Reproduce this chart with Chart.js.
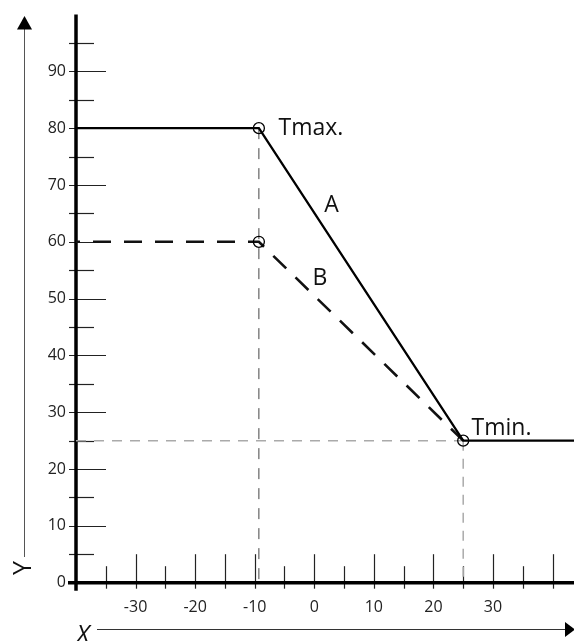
<!DOCTYPE html>
<html>
<head>
<meta charset="utf-8">
<script src="https://cdn.jsdelivr.net/npm/chart.js@4.4.1/dist/chart.umd.min.js"></script>
<style>
  html, body { margin: 0; padding: 0; background: #fff; }
  #wrap { width: 574px; height: 641px; }
</style>
</head>
<body>
<div id="wrap"><canvas id="grafico" width="574" height="641"></canvas></div>
<script>
// Dados
const xA = [-40, -9.3, 25, 43.6];     // curva A (linha cheia)
const yA = [80, 80, 25, 25];
const xB = [-40, -9.3, 25];           // curva B (tracejada)
const yB = [60, 60, 25];
const xMarcas = [-9.3, -9.3, 25];     // círculos abertos
const yMarcas = [80, 60, 25];
const rotulosX = [-30, -20, -10, 0, 10, 20, 30];
const rotulosY = [0, 10, 20, 30, 40, 50, 60, 70, 80, 90];
const textos = ['Tmax.', 'A', 'B', 'Tmin.'];

// posição dos textos (em unidades do gráfico)
const posTextos = [
  { x: -6.0, y: 78.8, align: 'left' },
  { x: 2.9, y: 65.2, align: 'center' },
  { x: 0.95, y: 52.4, align: 'center' },
  { x: 26.4, y: 26.0, align: 'left' }
];

const pares = (xs, ys) => xs.map((x, i) => ({ x: x, y: ys[i] }));

const desenhos = {
  id: 'desenhos',
  beforeDatasetsDraw(chart) {
    const ctx = chart.ctx;
    const sx = chart.scales.x, sy = chart.scales.y;
    const x0 = sx.getPixelForValue(-40);
    const y0 = sy.getPixelForValue(0);
    ctx.save();
    ctx.strokeStyle = '#222';
    ctx.lineWidth = 1.2;
    // marcas do eixo Y
    sy.ticks.forEach(t => {
      if (t.value <= 0 || t.value >= 100 || t.value % 5 !== 0) return;
      const py = Math.round(sy.getPixelForValue(t.value)) + 0.5;
      const len = t.value % 10 === 0 ? 30 : 18;
      ctx.beginPath(); ctx.moveTo(x0 - 7, py); ctx.lineTo(x0 + len, py); ctx.stroke();
    });
    // marcas do eixo X
    sx.ticks.forEach(t => {
      if (t.value <= -40 || t.value % 5 !== 0) return;
      const px = Math.round(sx.getPixelForValue(t.value)) + 0.5;
      const longa = t.value % 10 === 0 || t.value === -15;
      ctx.beginPath(); ctx.moveTo(px, y0 + 6); ctx.lineTo(px, y0 - (longa ? 28.5 : 16.5)); ctx.stroke();
    });
    // eixos grossos
    ctx.strokeStyle = '#000';
    ctx.lineWidth = 3.5;
    ctx.beginPath(); ctx.moveTo(x0, sy.getPixelForValue(100)); ctx.lineTo(x0, y0 + 8); ctx.stroke();
    ctx.beginPath(); ctx.moveTo(x0 - 8, y0); ctx.lineTo(chart.width, y0); ctx.stroke();
    ctx.restore();
  },
  afterDraw(chart) {
    const ctx = chart.ctx;
    const sx = chart.scales.x, sy = chart.scales.y;
    ctx.save();
    // textos
    ctx.fillStyle = '#111';
    ctx.font = '23px "Open Sans"';
    ctx.textBaseline = 'alphabetic';
    textos.forEach((t, i) => {
      const p = posTextos[i];
      ctx.textAlign = p.align;
      ctx.fillText(t, sx.getPixelForValue(p.x), sy.getPixelForValue(p.y));
    });
    // seta do Y
    ctx.strokeStyle = '#555';
    ctx.lineWidth = 1;
    ctx.beginPath(); ctx.moveTo(24.5, 29); ctx.lineTo(24.5, 557); ctx.stroke();
    ctx.fillStyle = '#000';
    ctx.beginPath(); ctx.moveTo(17, 29.5); ctx.lineTo(32, 29.5); ctx.lineTo(24.5, 16); ctx.closePath(); ctx.fill();
    // seta do X
    ctx.strokeStyle = '#333';
    ctx.beginPath(); ctx.moveTo(97, 629.5); ctx.lineTo(567, 629.5); ctx.stroke();
    ctx.beginPath(); ctx.moveTo(565, 622); ctx.lineTo(565, 637); ctx.lineTo(575, 629.5); ctx.closePath(); ctx.fill();
    // letras X e Y
    ctx.fillStyle = '#111';
    ctx.font = 'italic 25px "Open Sans"';
    ctx.textAlign = 'center';
    ctx.fillText('X', 83, 643);
    ctx.save();
    ctx.translate(31, 568);
    ctx.rotate(-Math.PI / 2);
    ctx.font = '25px "Open Sans"';
    ctx.fillText('Y', 0, 0);
    ctx.restore();
    ctx.restore();
  }
};

new Chart(document.getElementById('grafico'), {
  type: 'scatter',
  data: {
    datasets: [
      {
        data: pares(xA, yA), showLine: true, borderColor: '#000', borderWidth: 2.3,
        pointRadius: 0, order: 2
      },
      {
        data: pares(xB, yB), showLine: true, borderColor: '#111', borderWidth: 2.6,
        borderDash: [18, 13], borderDashOffset: 14, pointRadius: 0, order: 2
      },
      { // guia vertical Tmax
        data: pares([xMarcas[0], xMarcas[0]], [yMarcas[0], 0]), showLine: true,
        borderColor: '#444', borderWidth: 1, borderDash: [11, 9], pointRadius: 0, order: 5
      },
      { // guia vertical Tmin
        data: pares([xMarcas[2], xMarcas[2]], [yMarcas[2], 0]), showLine: true,
        borderColor: '#aaa', borderWidth: 1.5, borderDash: [10, 8], pointRadius: 0, order: 5
      },
      { // guia horizontal Tmin
        data: pares([-40, xMarcas[2]], [yMarcas[2], yMarcas[2]]), showLine: true,
        borderColor: '#aaa', borderWidth: 1.5, borderDash: [10, 8], pointRadius: 0, order: 5
      },
      {
        data: pares(xMarcas, yMarcas), showLine: false, pointRadius: 5.5,
        pointBorderColor: '#000', pointBackgroundColor: 'rgba(0,0,0,0)', pointBorderWidth: 1.3, order: 1
      }
    ]
  },
  options: {
    responsive: false,
    animation: false,
    devicePixelRatio: 1,
    layout: { autoPadding: false, padding: { top: 14.5, left: 0, right: 0, bottom: 0 } },
    plugins: { legend: { display: false }, tooltip: { enabled: false } },
    scales: {
      x: {
        type: 'linear', min: -40, max: 43.6,
        grid: { display: false, drawTicks: false },
        border: { display: false },
        ticks: {
          stepSize: 5, autoSkip: false, includeBounds: false, maxRotation: 0, padding: 15, color: '#222',
          font: { family: 'Open Sans', size: 16 },
          callback: v => rotulosX.includes(v) ? String(v) : ''
        },
        afterFit: s => { s.height = 58.3; s.paddingLeft = 0; s.paddingRight = 0; }
      },
      y: {
        min: 0, max: 100,
        grid: { display: false, drawTicks: false },
        border: { display: false },
        ticks: {
          stepSize: 5, autoSkip: false, includeBounds: false, padding: 10, color: '#222',
          font: { family: 'Open Sans', size: 16 },
          callback: v => rotulosY.includes(v) ? String(v) : ''
        },
        afterFit: s => { s.width = 76; s.paddingTop = 0; s.paddingBottom = 0; }
      }
    }
  },
  plugins: [desenhos]
});
</script>
</body>
</html>
